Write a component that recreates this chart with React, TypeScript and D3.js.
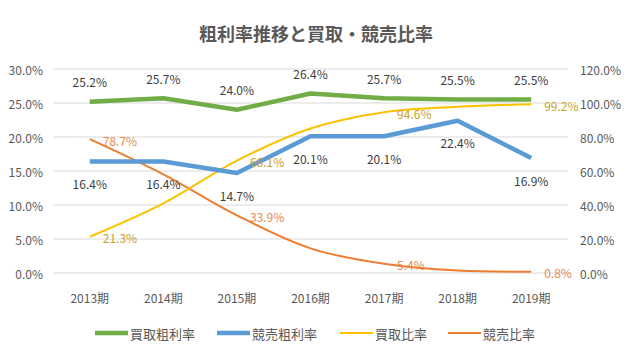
import React from "react";
import * as d3 from "d3";

const categories = ["2013期", "2014期", "2015期", "2016期", "2017期", "2018期", "2019期"];
const buyMargin = [25.2, 25.7, 24.0, 26.4, 25.7, 25.5, 25.5];
const auctionMargin = [16.4, 16.4, 14.7, 20.1, 20.1, 22.4, 16.9];
const buyRatio = [21.3, 41.0, 66.1, 85.0, 94.6, 97.8, 99.2];
const auctionRatio = [78.7, 58.0, 33.9, 14.5, 5.4, 1.4, 0.8];
const leftTicks = [0, 5, 10, 15, 20, 25, 30];
const rightTicks = [0, 20, 40, 60, 80, 100, 120];
const ratioLabelIdx = [0, 2, 4, 6];
const title = "粗利率推移と買取・競売比率";
const legendNames = ["買取粗利率", "競売粗利率", "買取比率", "競売比率"];

const W = 633, H = 355;
const FONT = "'Noto Sans CJK JP', 'Noto Sans', sans-serif";

export default function App() {
  const x = d3.scaleBand<string>().domain(categories).range([53, 568]);
  const cx = (c: string) => (x(c) as number) + x.bandwidth() / 2;
  const yL = d3.scaleLinear().domain([0, 30]).range([273, 69]);
  const yR = d3.scaleLinear().domain([0, 120]).range([273, 69]);

  const straight = d3.line<number>().x((_, i) => cx(categories[i])).y((v) => yL(v));
  const smoothR = d3
    .line<number>()
    .x((_, i) => cx(categories[i]))
    .y((v) => yR(v))
    .curve(d3.curveCatmullRom.alpha(0.5));

  const colors = ["#70AD47", "#5B9BD5", "#FFC000", "#ED7D31"];
  const widths = [4.5, 4.5, 2, 2];
  const legendX = [95, 217, 340, 448];

  return (
    <svg
      width={W}
      height={H}
      style={{ position: "fixed", left: 0, top: 0, background: "#fff" }}
      fontFamily={FONT}
    >
      <rect width={W} height={H} fill="#fff" />
      <text x={316} y={33} textAnchor="middle" dominantBaseline="central" fontSize={18} fontWeight="bold" fill="#595959">
        {title}
      </text>
      {leftTicks.map((t) => (
        <g key={"l" + t}>
          <line x1={53} x2={568} y1={yL(t)} y2={yL(t)} stroke="#D9D9D9" strokeWidth={1} />
          <text x={43} y={yL(t)} textAnchor="end" dominantBaseline="central" fontSize={12} fill="#595959">
            {t.toFixed(1)}%
          </text>
        </g>
      ))}
      {rightTicks.map((t) => (
        <text key={"r" + t} x={580} y={yR(t)} textAnchor="start" dominantBaseline="central" fontSize={12} fill="#595959">
          {t.toFixed(1)}%
        </text>
      ))}
      {categories.map((c) => (
        <text key={c} x={cx(c)} y={297} textAnchor="middle" dominantBaseline="central" fontSize={12} fill="#595959">
          {c}
        </text>
      ))}
      <path d={smoothR(auctionRatio) || ""} fill="none" stroke={colors[3]} strokeWidth={2} />
      <path d={smoothR(buyRatio) || ""} fill="none" stroke={colors[2]} strokeWidth={2} />
      <path d={straight(auctionMargin) || ""} fill="none" stroke={colors[1]} strokeWidth={4.5} strokeLinejoin="round" />
      <path d={straight(buyMargin) || ""} fill="none" stroke={colors[0]} strokeWidth={4.5} strokeLinejoin="round" />

      {buyMargin.map((v, i) => (
        <text key={"gm" + i} x={cx(categories[i])} y={yL(v) - 20} textAnchor="middle" dominantBaseline="central" fontSize={12} fill="#404040">
          {v.toFixed(1)}%
        </text>
      ))}
      {auctionMargin.map((v, i) => (
        <text key={"bm" + i} x={cx(categories[i])} y={yL(v) + 22} textAnchor="middle" dominantBaseline="central" fontSize={12} fill="#404040">
          {v.toFixed(1)}%
        </text>
      ))}
      {ratioLabelIdx.map((i) => (
        <text key={"yr" + i} x={cx(categories[i]) + 13} y={yR(buyRatio[i]) + 1} textAnchor="start" dominantBaseline="central" fontSize={12} fill="#C9A227">
          {buyRatio[i].toFixed(1)}%
        </text>
      ))}
      {ratioLabelIdx.map((i) => (
        <text key={"or" + i} x={cx(categories[i]) + 13} y={yR(auctionRatio[i]) + 1} textAnchor="start" dominantBaseline="central" fontSize={12} fill="#E58A4E">
          {auctionRatio[i].toFixed(1)}%
        </text>
      ))}

      {legendNames.map((n, i) => (
        <g key={n}>
          <line x1={legendX[i]} x2={legendX[i] + 33} y1={333} y2={333} stroke={colors[i]} strokeWidth={widths[i]} />
          <text x={legendX[i] + 35} y={333} dominantBaseline="central" fontSize={13} fill="#595959">
            {n}
          </text>
        </g>
      ))}
    </svg>
  );
}
